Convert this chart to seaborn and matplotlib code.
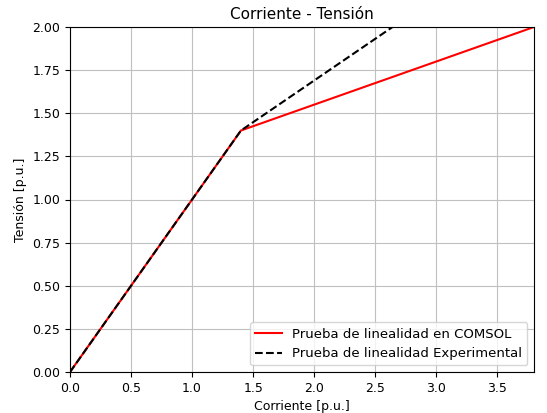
import matplotlib
matplotlib.use("Agg")
import matplotlib.pyplot as plt
import seaborn as sns
import pandas as pd

x_comsol = [0.0, 1.4, 3.8]
y_comsol = [0.0, 1.4, 2.0]
x_exp = [0.0, 1.4, 3.8]
y_exp = [0.0, 1.4, 2.56]

label_comsol = "Prueba de linealidad en COMSOL"
label_exp = "Prueba de linealidad Experimental"

plt.rcParams["font.size"] = 9

fig = plt.figure(figsize=(5.47, 4.13), dpi=100)
ax = fig.add_axes([70/547, 1 - 372/413, (534-70)/547, (372-27)/413])

df1 = pd.DataFrame({"x": x_comsol, "y": y_comsol})
df2 = pd.DataFrame({"x": x_exp, "y": y_exp})
sns.lineplot(data=df1, x="x", y="y", ax=ax, color="red", label=label_comsol, linewidth=1.5, sort=False)
sns.lineplot(data=df2, x="x", y="y", ax=ax, color="black", linestyle="--", label=label_exp, linewidth=1.5, sort=False)

ax.set_xlim(0, 3.8)
ax.set_ylim(0, 2.0)
ax.set_xticks([0, 0.5, 1.0, 1.5, 2.0, 2.5, 3.0, 3.5])
ax.set_yticks([0, 0.25, 0.5, 0.75, 1.0, 1.25, 1.5, 1.75, 2.0])
ax.yaxis.set_major_formatter(matplotlib.ticker.FormatStrFormatter("%.2f"))
ax.tick_params(labelsize=9)
ax.grid(True, color="#c0c0c0", linewidth=0.8)
ax.set_xlabel("Corriente [p.u.]", fontsize=9)
ax.set_ylabel("Tensión [p.u.]", fontsize=9)
ax.set_title("Corriente - Tensión", fontsize=11)
ax.legend(loc="lower right", fontsize=9.5)

fig.savefig("out.png", dpi=100)
